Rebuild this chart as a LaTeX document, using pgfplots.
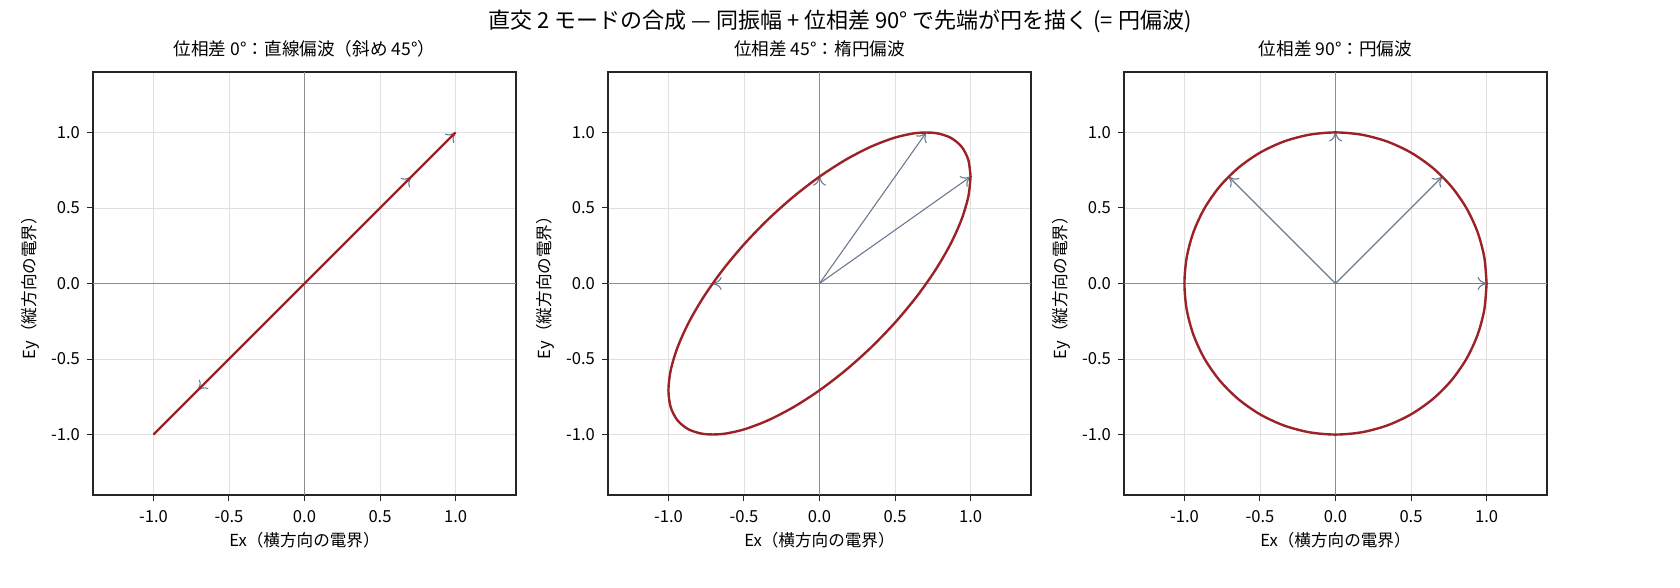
\documentclass[border=0pt]{standalone}
\usepackage{pgfplots}
\pgfplotsset{compat=1.18}
\usepackage{fontspec}
\setmainfont{Noto Sans CJK JP}
\usetikzlibrary{arrows.meta}

\definecolor{curve}{HTML}{9B2226}
\definecolor{vec}{HTML}{6A7A90}
\definecolor{zero}{HTML}{8C8C8C}

\pgfplotsset{
    pan/.style={
        scale only axis,
        width=211.5pt, height=211.5pt,
        xmin=-1.4, xmax=1.4, ymin=-1.4, ymax=1.4,
        xtick={-1,-0.5,0,0.5,1},
        ytick={-1,-0.5,0,0.5,1},
        xtick pos=bottom, ytick pos=left,
        tick align=outside,
        major tick length=3pt,
        tick style={line width=0.5pt, black!85},
        axis line style={line width=0.65pt, black!85},
        grid=major,
        grid style={line width=0.4pt, black!12},
        /pgf/number format/fixed,
        /pgf/number format/fixed zerofill,
        /pgf/number format/precision=1,
        /pgf/number format/assume math mode=true,
        tick label style={font=\fontsize{8.3}{9}\selectfont},
        xticklabel style={yshift=-1pt},
        label style={font=\fontsize{8.3}{9}\selectfont},
        title style={font=\fontsize{8.8}{10}\selectfont, yshift=-2pt},
        xlabel={Ex（横方向の電界）},
        ylabel={Ey（縦方向の電界）},
        xlabel style={yshift=2pt},
        ylabel style={yshift=-1pt},
        clip=true,
    },
    zl/.style={line width=0.4pt, zero, forget plot},
    arr/.style={line width=0.55pt, vec, -{To[length=4.5pt,width=6.5pt]}, forget plot},
    crv/.style={line width=1.2pt, curve, forget plot},
}

\begin{document}
\begin{tikzpicture}
\useasboundingbox (0,0) rectangle (840pt,294pt);
\node[font=\fontsize{11}{13}\selectfont] at (420pt,283.5pt) {直交 2 モードの合成 — 同振幅 + 位相差 90° で先端が円を描く (= 円偏波)};

% phase 0
\begin{axis}[pan, at={(46.5pt,46.5pt)}, anchor=south west,
    title={位相差 0°：直線偏波（斜め 45°）}]
\addplot[zl] coordinates {(-1.4,0) (1.4,0)};
\addplot[zl] coordinates {(0,-1.4) (0,1.4)};
\addplot[arr] coordinates {(0,0) (1,1)};
\addplot[arr] coordinates {(0,0) (0.7071,0.7071)};
\addplot[arr] coordinates {(0,0) (-0.7071,-0.7071)};
\addplot[crv] coordinates {(-1,-1) (1,1)};
\end{axis}

% phase 45
\begin{axis}[pan, at={(304pt,46.5pt)}, anchor=south west,
    title={位相差 45°：楕円偏波}]
\addplot[zl] coordinates {(-1.4,0) (1.4,0)};
\addplot[zl] coordinates {(0,-1.4) (0,1.4)};
\addplot[arr] coordinates {(0,0) (1,0.7071)};
\addplot[arr] coordinates {(0,0) (0.7071,1)};
\addplot[arr] coordinates {(0,0) (0,0.7071)};
\addplot[arr] coordinates {(0,0) (-0.7071,0)};
\addplot[crv, smooth] coordinates {
(1,0.7071) (0.9848,0.8192) (0.9397,0.9063) (0.8660,0.9659) (0.7660,0.9962)
(0.6428,0.9962) (0.5,0.9659) (0.3420,0.9063) (0.1736,0.8192) (0,0.7071)
(-0.1736,0.5736) (-0.3420,0.4226) (-0.5,0.2588) (-0.6428,0.0872) (-0.7660,-0.0872)
(-0.8660,-0.2588) (-0.9397,-0.4226) (-0.9848,-0.5736) (-1,-0.7071) (-0.9848,-0.8192)
(-0.9397,-0.9063) (-0.8660,-0.9659) (-0.7660,-0.9962) (-0.6428,-0.9962) (-0.5,-0.9659)
(-0.3420,-0.9063) (-0.1736,-0.8192) (0,-0.7071) (0.1736,-0.5736) (0.3420,-0.4226)
(0.5,-0.2588) (0.6428,-0.0872) (0.7660,0.0872) (0.8660,0.2588) (0.9397,0.4226)
(0.9848,0.5736) (1,0.7071)
};
\end{axis}

% phase 90
\begin{axis}[pan, at={(562pt,46.5pt)}, anchor=south west,
    title={位相差 90°：円偏波}]
\addplot[zl] coordinates {(-1.4,0) (1.4,0)};
\addplot[zl] coordinates {(0,-1.4) (0,1.4)};
\addplot[arr] coordinates {(0,0) (1,0)};
\addplot[arr] coordinates {(0,0) (0.7071,0.7071)};
\addplot[arr] coordinates {(0,0) (0,1)};
\addplot[arr] coordinates {(0,0) (-0.7071,0.7071)};
\addplot[crv, smooth] coordinates {
(1,0) (0.9848,0.1736) (0.9397,0.3420) (0.8660,0.5) (0.7660,0.6428)
(0.6428,0.7660) (0.5,0.8660) (0.3420,0.9397) (0.1736,0.9848) (0,1)
(-0.1736,0.9848) (-0.3420,0.9397) (-0.5,0.8660) (-0.6428,0.7660) (-0.7660,0.6428)
(-0.8660,0.5) (-0.9397,0.3420) (-0.9848,0.1736) (-1,0) (-0.9848,-0.1736)
(-0.9397,-0.3420) (-0.8660,-0.5) (-0.7660,-0.6428) (-0.6428,-0.7660) (-0.5,-0.8660)
(-0.3420,-0.9397) (-0.1736,-0.9848) (0,-1) (0.1736,-0.9848) (0.3420,-0.9397)
(0.5,-0.8660) (0.6428,-0.7660) (0.7660,-0.6428) (0.8660,-0.5) (0.9397,-0.3420)
(0.9848,-0.1736) (1,0)
};
\end{axis}
\end{tikzpicture}
\end{document}
